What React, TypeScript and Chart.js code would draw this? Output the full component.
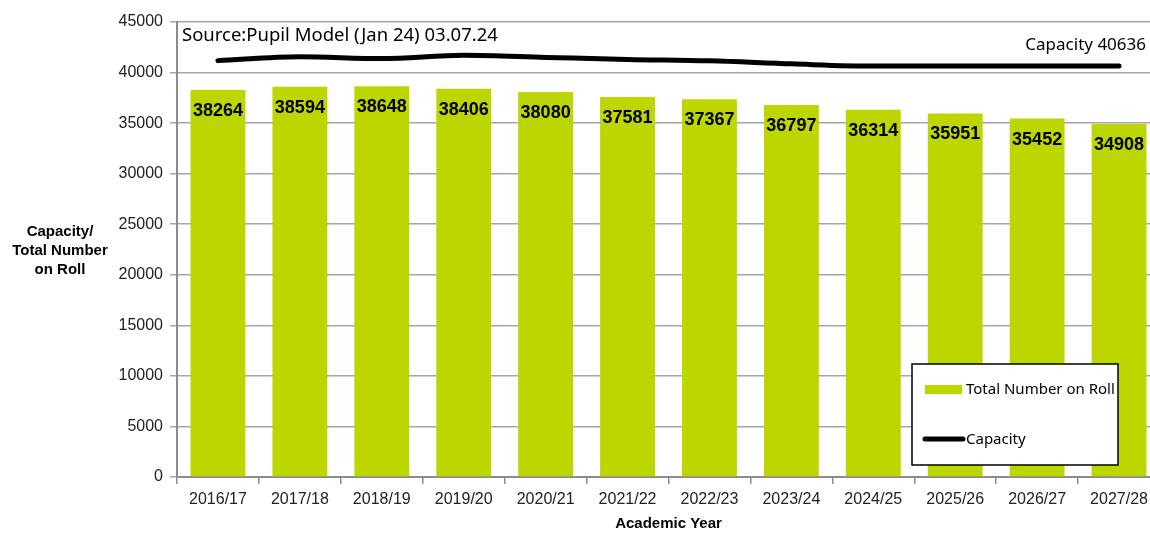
import React, { useEffect, useRef } from "react";
import { Chart, registerables } from "chart.js";

Chart.register(...registerables);

const categories = ["2016/17", "2017/18", "2018/19", "2019/20", "2020/21", "2021/22", "2022/23", "2023/24", "2024/25", "2025/26", "2026/27", "2027/28"];
const totalOnRoll = [38264, 38594, 38648, 38406, 38080, 37581, 37367, 36797, 36314, 35951, 35452, 34908];
const capacity = [41180, 41560, 41380, 41700, 41500, 41300, 41160, 40860, 40636, 40636, 40636, 40636];
const yTicks = [0, 5000, 10000, 15000, 20000, 25000, 30000, 35000, 40000, 45000];

const BAR = "#BED600";
const FONT = "'Liberation Sans', Arial, sans-serif";
const FONT2 = "'Noto Sans', 'Liberation Sans', sans-serif";

const overlay = {
  id: "overlay",
  afterDatasetsDraw(chart: any) {
    const ctx = chart.ctx;
    const meta = chart.getDatasetMeta(0);
    ctx.save();
    ctx.fillStyle = "#000";
    ctx.font = `bold 18px ${FONT}`;
    ctx.textAlign = "center";
    ctx.textBaseline = "middle";
    meta.data.forEach((bar: any, i: number) => {
      ctx.fillText(String(totalOnRoll[i]), bar.x, bar.y + 21);
    });
    ctx.restore();
  },
  afterDraw(chart: any) {
    const ctx = chart.ctx;
    const ca = chart.chartArea;
    ctx.save();
    ctx.fillStyle = "#000";
    ctx.font = `bold 15px ${FONT}`;
    ctx.textAlign = "center";
    ctx.textBaseline = "middle";
    ctx.fillText("Capacity/", 60, 232);
    ctx.fillText("Total Number", 60, 251);
    ctx.fillText("on Roll", 60, 270);
    ctx.fillText("Academic Year", (ca.left + ca.right) / 2, 524);
    ctx.font = `18.5px ${FONT2}`;
    ctx.textAlign = "left";
    ctx.fillText("Source:Pupil Model (Jan 24) 03.07.24", 182, 36);
    ctx.font = `17px ${FONT2}`;
    ctx.textAlign = "right";
    ctx.fillText("Capacity 40636", 1146, 45);
    // legend
    const lx = 912, ly = 364, lw = 206, lh = 101;
    ctx.fillStyle = "#fff";
    ctx.fillRect(lx, ly, lw, lh);
    ctx.strokeStyle = "#000";
    ctx.lineWidth = 1.5;
    ctx.strokeRect(lx, ly, lw, lh);
    ctx.fillStyle = BAR;
    ctx.fillRect(925, 385, 37, 9);
    ctx.fillStyle = "#000";
    ctx.font = `15px ${FONT2}`;
    ctx.textAlign = "left";
    ctx.fillText("Total Number on Roll", 966, 390);
    ctx.beginPath();
    ctx.lineCap = "round";
    ctx.lineWidth = 5;
    ctx.moveTo(925, 439);
    ctx.lineTo(963, 439);
    ctx.stroke();
    ctx.fillText("Capacity", 966, 440);
    ctx.restore();
  },
};

export default function App() {
  const ref = useRef<HTMLCanvasElement>(null);
  useEffect(() => {
    const chart = new Chart(ref.current!, {
      type: "bar",
      data: {
        labels: categories,
        datasets: [
          {
            type: "bar",
            label: "Total Number on Roll",
            data: totalOnRoll,
            backgroundColor: BAR,
            barPercentage: 0.67,
            categoryPercentage: 1,
            order: 2,
          },
          {
            type: "line",
            label: "Capacity",
            data: capacity,
            borderColor: "#000",
            borderWidth: 5,
            borderCapStyle: "round",
            pointRadius: 0,
            tension: 0.4,
            cubicInterpolationMode: "monotone",
            fill: false,
            order: 1,
          } as any,
        ],
      },
      options: {
        animation: false,
        responsive: false,
        layout: { padding: { top: 22, right: 10, left: 0, bottom: 0 } },
        plugins: { legend: { display: false }, tooltip: { enabled: false } },
        scales: {
          x: {
            offset: true,
            grid: { display: true, drawOnChartArea: false, offset: true, tickLength: 7, color: "#8c8c8c", lineWidth: 1.5 },
            border: { color: "#8c8c8c", width: 2 },
            ticks: { color: "#222", font: { family: FONT, size: 16 }, padding: 6, maxRotation: 0 },
            afterFit: (s: any) => { s.height = 56; },
          },
          y: {
            min: 0,
            max: 45000,
            afterBuildTicks: (s: any) => { s.ticks = yTicks.map((v) => ({ value: v })); },
            grid: { color: "#a6a6a6", lineWidth: 1.5, tickLength: 7 },
            border: { color: "#8c8c8c", width: 2 },
            ticks: { color: "#222", font: { family: FONT, size: 16 }, padding: 7, callback: (v: any) => String(v) },
            afterFit: (s: any) => { s.width = 177; },
          },
        },
      },
      plugins: [overlay],
    });
    return () => chart.destroy();
  }, []);
  return (
    <div style={{ position: "fixed", left: 0, top: 0, width: 1150, height: 533, overflow: "hidden", background: "#fff" }}>
      <canvas ref={ref} width={1170} height={533} style={{ display: "block" }} />
    </div>
  );
}
